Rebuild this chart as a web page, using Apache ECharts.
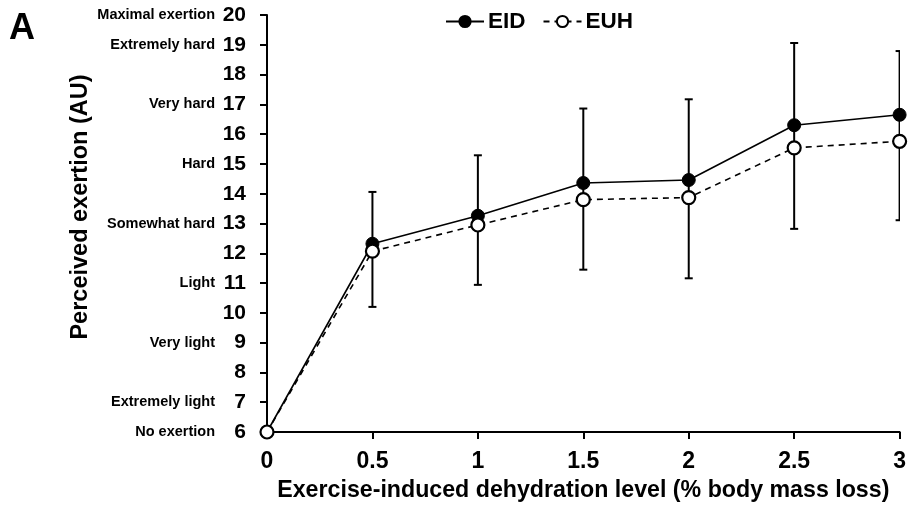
<!DOCTYPE html>
<html>
<head>
<meta charset="utf-8">
<script src="https://cdn.jsdelivr.net/npm/echarts@6/dist/echarts.min.js"></script>
<style>html,body{margin:0;padding:0;background:#fff}#c{width:909px;height:510px}</style>
</head>
<body>
<div id="c"></div>
<script>
var xValues = [0, 0.5, 1, 1.5, 2, 2.5, 3];
var eid = [6, 12.32, 13.26, 14.36, 14.46, 16.3, 16.65];
var euh = [6, 12.07, 12.95, 13.8, 13.87, 15.54, 15.76];
var errLow = [6, 10.2, 10.94, 11.45, 11.16, 12.82, 13.11];
var errHigh = [6, 14.06, 15.29, 16.86, 17.17, 19.06, 18.79];
var yDescriptions = {6:'No exertion',7:'Extremely light',9:'Very light',11:'Light',13:'Somewhat hard',15:'Hard',17:'Very hard',19:'Extremely hard',20:'Maximal exertion'};

var FONT = 'Liberation Sans, Arial, sans-serif';
var chart = echarts.init(document.getElementById('c'), null, {renderer:'canvas'});

var errData = xValues.map(function(x,i){return [x, errLow[i], errHigh[i]];}).filter(function(d){return d[2]>d[1];});

chart.setOption({
  animation:false,
  textStyle:{fontFamily:FONT},
  grid:{left:267, right:8, top:15, bottom:78, containLabel:false},
  graphic:[
    {type:'text', left:9, top:11, style:{text:'A', font:'bold 36px '+FONT, fill:'#000'}},
    {type:'text', x:81, y:207, rotation:Math.PI/2, style:{text:'Perceived exertion (AU)', font:'bold 23.5px '+FONT, fill:'#000', align:'center', verticalAlign:'middle'}}
  ],
  legend:{
    top:5, left:440, itemGap:17, itemWidth:38, itemHeight:14,
    textStyle:{fontFamily:FONT, fontWeight:'bold', fontSize:22.5, color:'#000', padding:[0,0,0,-1]},
    data:['EID','EUH']
  },
  xAxis:{
    type:'value', min:0, max:3, interval:0.5,
    name:'Exercise-induced dehydration level (% body mass loss)',
    nameLocation:'middle', nameGap:47,
    nameTextStyle:{fontFamily:FONT, fontWeight:'bold', fontSize:23.2, color:'#000'},
    axisLine:{show:true, onZero:false, lineStyle:{color:'#000', width:2}},
    axisTick:{show:true, length:7, lineStyle:{color:'#000', width:2}},
    axisLabel:{margin:18, fontFamily:FONT, fontWeight:'bold', fontSize:23, color:'#000',
      formatter:function(v){return String(v);}},
    splitLine:{show:false}
  },
  yAxis:{
    type:'value', min:6, max:20, interval:1,
    axisLine:{show:true, onZero:false, lineStyle:{color:'#000', width:2}},
    axisTick:{show:true, length:7, lineStyle:{color:'#000', width:2}},
    axisLabel:{margin:21, color:'#000',
      formatter:function(v){
        var d = yDescriptions[v];
        return (d ? '{d|'+d+'}' : '') + '{n|'+v+'}';
      },
      rich:{
        d:{fontFamily:FONT, fontWeight:'bold', fontSize:14.5, color:'#000'},
        n:{fontFamily:FONT, fontWeight:'bold', fontSize:21, color:'#000', width:31, align:'right'}
      }
    },
    splitLine:{show:false}
  },
  series:[
    {
      type:'custom', name:'err', clip:true, z:1, silent:true,
      data:errData,
      renderItem:function(params, api){
        var x = api.value(0);
        var lo = api.coord([x, api.value(1)]);
        var hi = api.coord([x, api.value(2)]);
        var cw = 4;
        var style = {stroke:'#000', lineWidth:2, fill:null};
        return {type:'group', children:[
          {type:'line', shape:{x1:lo[0], y1:lo[1], x2:hi[0], y2:hi[1]}, style:style},
          {type:'line', shape:{x1:lo[0]-cw, y1:lo[1], x2:lo[0]+cw, y2:lo[1]}, style:style},
          {type:'line', shape:{x1:hi[0]-cw, y1:hi[1], x2:hi[0]+cw, y2:hi[1]}, style:style}
        ]};
      }
    },
    {
      type:'line', name:'EID', z:3,
      data:xValues.map(function(x,i){return [x, eid[i]];}),
      symbol:'circle', symbolSize:13,
      lineStyle:{color:'#000', width:1.6},
      itemStyle:{color:'#000', borderColor:'#000', borderWidth:1},
      clip:false
    },
    {
      type:'line', name:'EUH', z:4,
      data:xValues.map(function(x,i){return [x, euh[i]];}),
      symbol:'circle', symbolSize:13,
      lineStyle:{color:'#000', width:1.6, type:[6,5]},
      itemStyle:{color:'#fff', borderColor:'#000', borderWidth:2.2},
      clip:false
    }
  ]
});
</script>
</body>
</html>
